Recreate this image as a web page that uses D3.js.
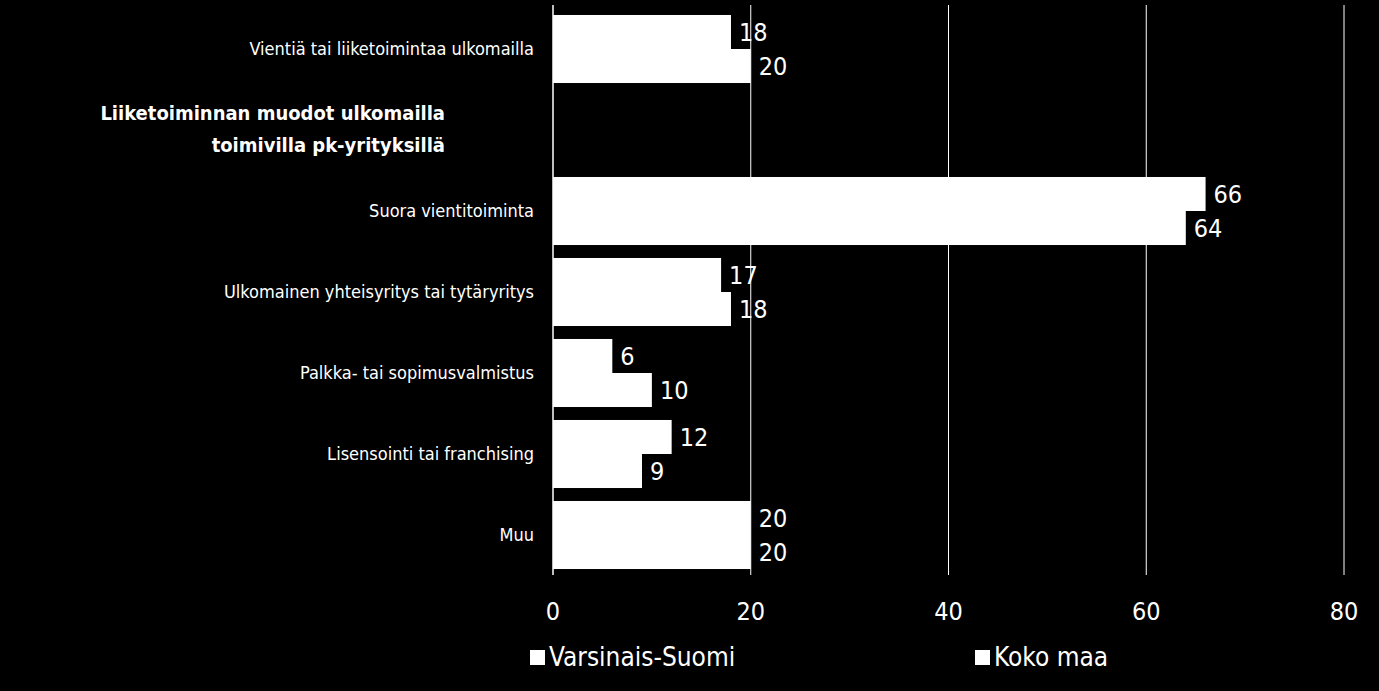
<!DOCTYPE html>
<html><head><meta charset="utf-8">
<script src="https://cdn.jsdelivr.net/npm/d3@7"></script>
<style>body{margin:0;background:#000}</style></head>
<body><svg id="c" width="1379" height="691"></svg>
<script>
const categories=["Vientiä tai liiketoimintaa ulkomailla","HEADER","Suora vientitoiminta","Ulkomainen yhteisyritys tai tytäryritys","Palkka- tai sopimusvalmistus","Lisensointi tai franchising","Muu"];
const headerLines=["Liiketoiminnan muodot ulkomailla","toimivilla pk-yrityksillä"];
const seriesNames=["Varsinais-Suomi","Koko maa"];
const varsinais=[18,null,66,17,6,12,20];
const koko=[20,null,64,18,10,9,20];
const ticks=[0,20,40,60,80];
const font="'DejaVu Sans Condensed','DejaVu Sans',sans-serif";
const svg=d3.select("#c");
const x=d3.scaleLinear().domain([0,80]).range([553,1344]);
const y=d3.scaleBand().domain(categories).range([8.5,575.5]).paddingInner(0.16).paddingOuter(0.08);
const sub=d3.scaleBand().domain([0,1]).range([0,y.bandwidth()]);
svg.selectAll(".g").data(ticks.slice(1)).enter().append("line")
 .attr("x1",d=>x(d)).attr("x2",d=>x(d)).attr("y1",5).attr("y2",575).attr("stroke","#fff").attr("stroke-width",1);
const series=[varsinais,koko];
series.forEach((s,si)=>{
 categories.forEach((c,i)=>{
  if(s[i]==null)return;
  const yy=y(c)+sub(si);
  svg.append("rect").attr("x",x(0)).attr("y",yy).attr("width",x(s[i])-x(0)).attr("height",sub.bandwidth()).attr("fill","#fff");
  svg.append("text").attr("x",x(s[i])+8).attr("y",yy+sub.bandwidth()/2+9).attr("fill","#fff")
   .attr("font-family",font).attr("font-size",25).text(s[i]);
 });
});
svg.append("line").attr("x1",553).attr("x2",553).attr("y1",5).attr("y2",575).attr("stroke","#fff").attr("stroke-width",1.5);
categories.forEach((c,i)=>{
 const cy=y(c)+y.bandwidth()/2;
 if(c==="HEADER"){
  headerLines.forEach((l,j)=>svg.append("text").attr("x",445).attr("y",cy-10+j*32).attr("text-anchor","end")
   .attr("fill","#fff").attr("font-family",font).attr("font-weight","bold").attr("font-size",20).text(l));
 } else {
  svg.append("text").attr("x",534).attr("y",cy+6).attr("text-anchor","end").attr("fill","#fff")
   .attr("font-family",font).attr("font-size",18).text(c);
 }
});
svg.append("g").selectAll("text").data(ticks).enter().append("text").attr("x",d=>x(d)).attr("y",620)
 .attr("text-anchor","middle").attr("fill","#fff").attr("font-family",font).attr("font-size",25).text(d=>d);
const lx=[530,975];
seriesNames.forEach((n,i)=>{
 svg.append("rect").attr("x",lx[i]).attr("y",650).attr("width",15).attr("height",15).attr("fill","#fff");
 svg.append("text").attr("x",lx[i]+19).attr("y",666).attr("fill","#fff").attr("font-family",font).attr("font-size",26).text(n);
});
</script></body></html>
